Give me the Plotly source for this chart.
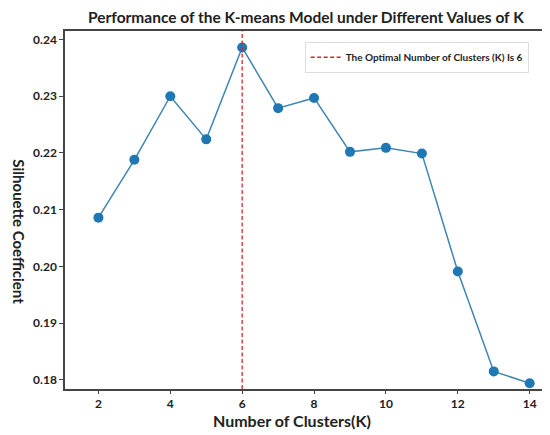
import plotly.graph_objects as go

k_values = [2, 3, 4, 5, 6, 7, 8, 9, 10, 11, 12, 13, 14]
silhouette = [0.2086, 0.2188, 0.2300, 0.2224, 0.2386, 0.2279, 0.2297, 0.2202, 0.2209, 0.2199, 0.1991, 0.1815, 0.1794]
optimal_k = 6
x_ticks = [2, 4, 6, 8, 10, 12, 14]
y_ticks = [0.18, 0.19, 0.20, 0.21, 0.22, 0.23, 0.24]

font = "Lato, 'Open Sans', sans-serif"

fig = go.Figure()
fig.add_trace(go.Scatter(
    x=k_values, y=silhouette, mode="lines+markers",
    line=dict(color="#3f86b0", width=1.5),
    marker=dict(color="#1f77b4", size=10),
    showlegend=False,
))
# dashed marker for the best k, shown in the legend
fig.add_vline(
    x=optimal_k, line=dict(color="#d62728", width=1.3, dash="4px,2.5px"),
    showlegend=True, name=f"The Optimal Number of Clusters (K) Is {optimal_k}",
)

axis_style = dict(
    showline=True, mirror=True, linecolor="#444", linewidth=1.5,
    ticks="outside", ticklen=4, tickcolor="#444", showgrid=False, zeroline=False,
    automargin=False,
    tickfont=dict(family=font, size=12, color="#222", weight="bold"),
)

# page body has an 8px margin, so the figure is a bit smaller than the window
fig.update_layout(
    width=542, height=427,
    margin=dict(l=57, r=7, t=23, b=46),
    plot_bgcolor="white", paper_bgcolor="white",
    font=dict(family=font, color="#222"),
    title=dict(
        text="<b>Performance of the K-means Model under Different Values of K</b>",
        x=0.504, xref="paper", xanchor="center", y=0.978, yanchor="middle",
        font=dict(family=font, size=15.5, color="#222"),
    ),
    xaxis=dict(axis_style, range=[1.07, 14.37], tickvals=x_ticks, ticklen=3),
    yaxis=dict(axis_style, range=[0.1784, 0.2415], tickvals=y_ticks, tickformat=".2f"),
    legend=dict(
        x=0.97, y=0.97, xanchor="right", yanchor="top",
        bgcolor="white", bordercolor="#ddd", borderwidth=1,
        font=dict(family=font, size=10, color="#222", weight="bold"),
    ),
    annotations=[
        dict(text="<b>Number of Clusters(K)</b>", xref="paper", yref="paper",
             x=0.474, y=-0.088, xanchor="center", yanchor="middle", showarrow=False,
             font=dict(family=font, size=16, color="#222")),
        dict(text="<b>Silhouette Coefficient</b>", xref="paper", yref="paper",
             x=-0.098, y=0.44, xanchor="center", yanchor="middle", showarrow=False,
             textangle=90, font=dict(family=font, size=15, color="#222")),
    ],
)

fig.write_html("out.html")
